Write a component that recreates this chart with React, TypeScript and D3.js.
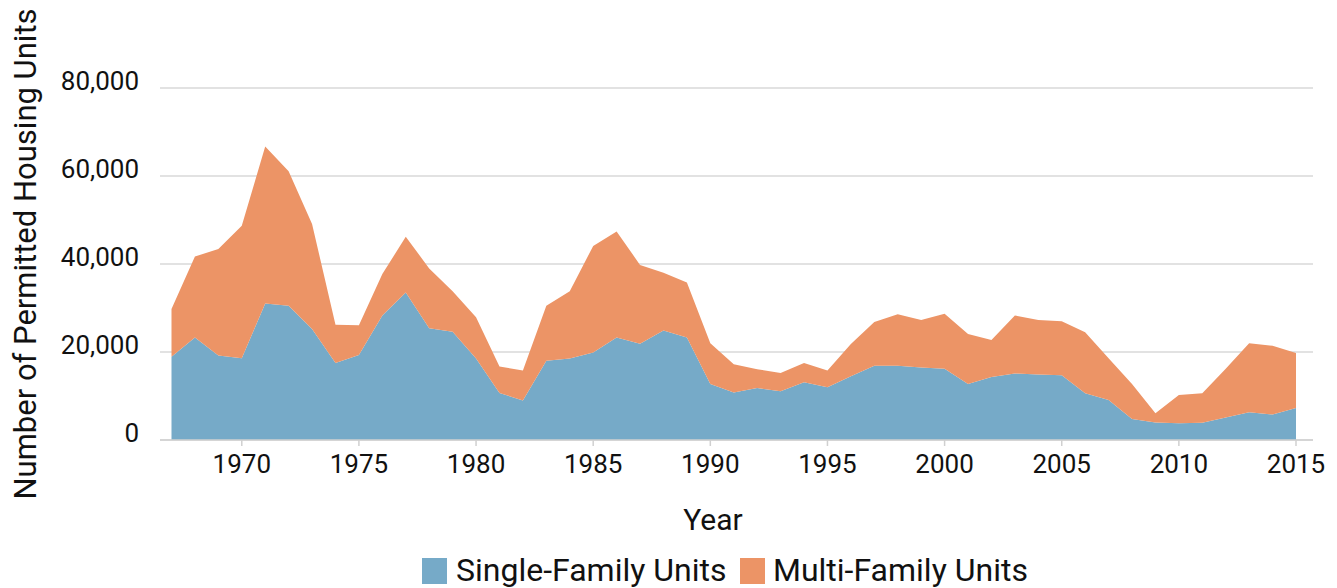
import React from "react";
import * as d3 from "d3";

const years = [
  1967, 1968, 1969, 1970, 1971, 1972, 1973, 1974, 1975, 1976, 1977, 1978, 1979, 1980,
  1981, 1982, 1983, 1984, 1985, 1986, 1987, 1988, 1989, 1990, 1991, 1992, 1993,
  1994, 1995, 1996, 1997, 1998, 1999, 2000, 2001, 2002, 2003, 2004, 2005,
  2006, 2007, 2008, 2009, 2010, 2011, 2012, 2013, 2014, 2015,
];

const singleFamily = [
  18900, 23300, 19200, 18600, 31000, 30500, 25200, 17500, 19300, 28300, 33500, 25400, 24600, 18500,
  10700, 9000, 18000, 18500, 19900, 23300, 21900, 24900, 23300, 12700, 10800, 11800, 11100,
  13100, 12000, 14500, 16900, 16900, 16500, 16200, 12700, 14300, 15100, 14900, 14700,
  10600, 9100, 4800, 4000, 3800, 3900, 5100, 6300, 5800, 7300,
];

const multiFamily = [
  10900, 18400, 24200, 30100, 35700, 30600, 23900, 8700, 6800, 9400, 12700, 13600, 9200, 9400,
  6000, 6800, 12500, 15300, 24200, 24100, 17900, 13100, 12500, 9300, 6400, 4300, 4100,
  4400, 3800, 7300, 9900, 11700, 10800, 12500, 11400, 8400, 13200, 12400, 12300,
  13900, 9500, 7900, 2100, 6400, 6700, 11100, 15700, 15600, 12500,
];

const yTicks = [0, 20000, 40000, 60000, 80000];
const xTicks = [1970, 1975, 1980, 1985, 1990, 1995, 2000, 2005, 2010, 2015];

const seriesNames = ["Single-Family Units", "Multi-Family Units"];
const colors = ["#76aac8", "#ec9466"];

const FONT = "Roboto, 'Noto Sans', sans-serif";

export default function App() {
  const width = 1337;
  const height = 588;
  const x = d3.scaleLinear().domain([1967, 2015]).range([171.5, 1296]);
  const y = d3.scaleLinear().domain([0, 80000]).range([440, 88]);

  const rows = years.map((yr, i) => ({ year: yr, single: singleFamily[i], multi: multiFamily[i] }));
  const stacked = d3.stack<any>().keys(["single", "multi"])(rows);
  const area = d3
    .area<any>()
    .x((d) => x(d.data.year))
    .y0((d) => y(d[0]))
    .y1((d) => y(d[1]));

  const fmt = d3.format(",");

  return (
    <svg
      width={width}
      height={height}
      style={{ position: "absolute", left: 0, top: 0, background: "#fff" }}
      fontFamily={FONT}
    >
      {yTicks.map((t) => (
        <g key={t}>
          <line x1={160} x2={1313} y1={y(t)} y2={y(t)} stroke="#d9d9d9" strokeWidth={1.5} />
          <text x={139} y={y(t) + 2} textAnchor="end" fontSize={26} fill="#111">
            {fmt(t)}
          </text>
        </g>
      ))}
      {stacked.map((s, i) => (
        <path key={s.key} d={area(s) || ""} fill={colors[i]} />
      ))}
      <line x1={160} x2={1313} y1={y(0)} y2={y(0)} stroke="#d0d0d0" strokeWidth={1.5} />
      {xTicks.map((t) => (
        <g key={t}>
          <line x1={x(t)} x2={x(t)} y1={y(0)} y2={y(0) + 6} stroke="#d0d0d0" strokeWidth={1.5} />
          <text x={x(t)} y={473} textAnchor="middle" fontSize={26} fill="#111">
            {t}
          </text>
        </g>
      ))}
      <text x={713} y={530} textAnchor="middle" fontSize={30} fill="#111">
        Year
      </text>
      <text
        transform={`translate(36, 254) rotate(-90)`}
        textAnchor="middle"
        fontSize={31}
        fill="#111"
      >
        Number of Permitted Housing Units
      </text>
      <g>
        <rect x={422} y={558} width={25} height={26} fill={colors[0]} />
        <text x={456} y={581} fontSize={32} fill="#111">
          {seriesNames[0]}
        </text>
        <rect x={740} y={558} width={25} height={26} fill={colors[1]} />
        <text x={773} y={581} fontSize={32} fill="#111">
          {seriesNames[1]}
        </text>
      </g>
    </svg>
  );
}
